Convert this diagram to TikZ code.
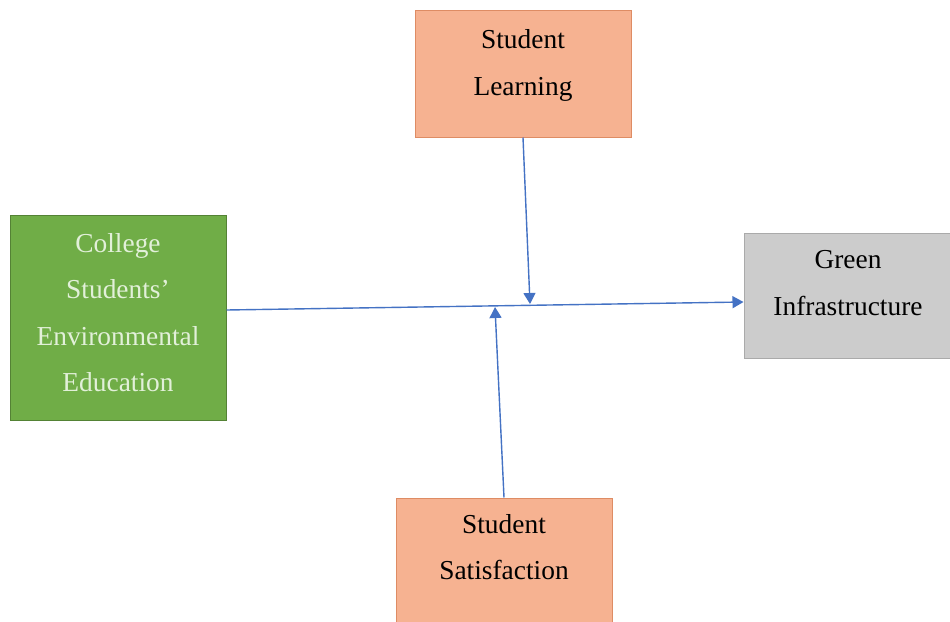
\documentclass[tikz,border=0pt]{standalone}
\usepackage{fontspec}
\setmainfont{Liberation Serif}
\usepackage{xcolor}
\usepackage{tikz}
\usetikzlibrary{arrows.meta,calc}

\definecolor{boxorange}{RGB}{246,178,145}
\definecolor{edgeorange}{RGB}{222,140,100}
\definecolor{boxgreen}{RGB}{112,173,71}
\definecolor{edgegreen}{RGB}{84,130,53}
\definecolor{txtgreen}{RGB}{226,240,217}
\definecolor{boxgray}{RGB}{204,204,204}
\definecolor{edgegray}{RGB}{170,170,170}
\definecolor{arrowblue}{RGB}{68,114,196}

% extra depth below the last line, pushes the text up in its box
\newcommand{\lift}[1]{\rule[-#1]{0pt}{#1}}

\begin{document}
\begin{tikzpicture}[x=1pt,y=-1pt,
		factor/.style={draw, rectangle, align=center, inner sep=0pt,
			font=\fontsize{27.4}{46.5}\selectfont, line width=1pt},
		arr/.style={draw=arrowblue, line width=1.4pt, -{Triangle[length=11pt,width=12pt]}}]
		\useasboundingbox (0,0) rectangle (950,621);
		\fill[white] (0,0) rectangle (950,621);

		\node[factor, fill=boxorange, draw=edgeorange, minimum width=216pt, minimum height=127pt] (learn) at (523,73.5) {Student\\Learning\lift{22pt}};
		\node[factor, fill=boxgreen, draw=edgegreen, text=txtgreen, minimum width=216pt, minimum height=205pt] (edu) at (118,317.5) {College\\Students’\\Environmental\\Education\lift{10pt}};
		\node[factor, fill=boxgray, draw=edgegray, minimum width=208pt, minimum height=125pt] (infra) at (848,295.5) {Green\\Infrastructure\lift{25pt}};
		\node[factor, fill=boxorange, draw=edgeorange, minimum width=216pt, minimum height=127pt] (sat) at (504,561.5) {Student\\Satisfaction\lift{29pt}};

		\coordinate (tipL) at (530,304);
		\coordinate (tipS) at (495,307);

		\draw[arr] ([yshift=7.5pt]edu.east) -- ([yshift=-6.5pt]infra.west);
		\draw[arr] (learn.south) -- (tipL);
		\draw[arr] (sat.north) -- (tipS);
	\end{tikzpicture}
\end{document}
